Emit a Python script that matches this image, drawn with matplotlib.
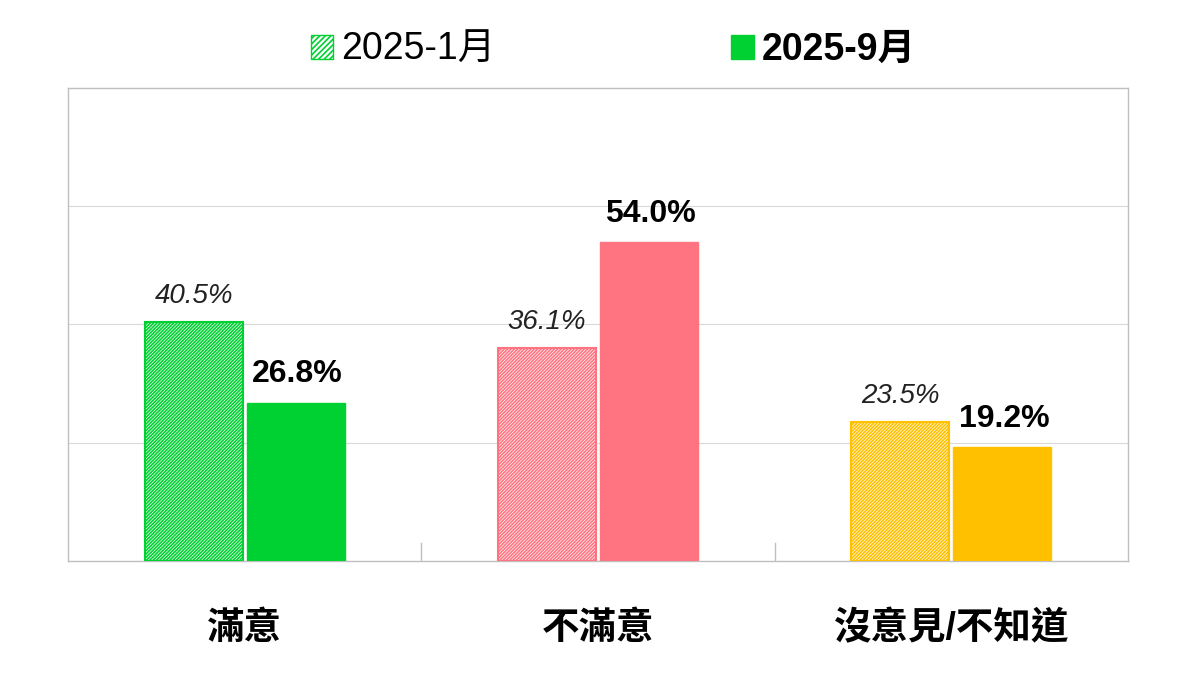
import matplotlib.pyplot as plt
import matplotlib.patches as mpatches
import numpy as np

plt.rcParams['font.family'] = ['Liberation Sans', 'Noto Sans CJK TC']
plt.rcParams['hatch.linewidth'] = 1.2

categories = ['滿意', '不滿意', '沒意見/不知道']
jan_values = [40.5, 36.1, 23.5]
sep_values = [26.8, 54.0, 19.2]
colors = ['#00D132', '#FF7480', '#FFC000']
series_labels = ['2025-1月', '2025-9月']

fig = plt.figure(figsize=(12, 6.75), dpi=100)
ax = fig.add_axes([0.0567, 0.169, 0.8833, 0.7006])

x = np.arange(len(categories))
w = 0.277
gap = 0.006

for i in range(len(categories)):
    ax.bar(x[i] - w / 2 - gap, jan_values[i], width=w, facecolor='white',
           edgecolor=colors[i], hatch='//////////', linewidth=1.5, zorder=3)
    ax.bar(x[i] + w / 2 + gap, sep_values[i], width=w, color=colors[i],
           edgecolor=colors[i], linewidth=1, zorder=3)
    ax.text(x[i] - w / 2 - gap, jan_values[i] + 2.2, f'{jan_values[i]:.1f}%',
            ha='center', va='bottom', fontsize=20, style='italic', color='#222222')
    ax.text(x[i] + w / 2 + gap + 0.005, sep_values[i] + 2.2, f'{sep_values[i]:.1f}%',
            ha='center', va='bottom', fontsize=23, fontweight='bold', color='black')

ax.set_xlim(-0.5, 2.5)
ax.set_ylim(0, 80)
ax.set_yticks([20, 40, 60])
ax.yaxis.grid(True, color='#d9d9d9', linewidth=0.8, zorder=0)
ax.tick_params(axis='y', left=False, labelleft=False)
ax.set_xticks(x)
ax.set_xticklabels(categories, fontsize=27, fontweight='bold')
ax.tick_params(axis='x', length=0, pad=36)
for b in [0.5, 1.5]:
    ax.plot([b, b], [0, 3], color='#bfbfbf', linewidth=1, zorder=2)
for s in ax.spines.values():
    s.set_color('#bfbfbf')
    s.set_linewidth(1)

h1 = mpatches.Patch(facecolor='white', edgecolor=colors[0], hatch='//////', linewidth=1)
h2 = mpatches.Patch(facecolor=colors[0], edgecolor=colors[0])
leg = fig.legend([h1, h2], series_labels, loc='center', bbox_to_anchor=(0.511, 0.926),
                 ncol=2, frameon=False, fontsize=27, handlelength=0.6, handleheight=0.6,
                 handletextpad=0.2, columnspacing=6.3)
leg.get_texts()[1].set_fontweight('bold')

fig.savefig('out.png', dpi=100, facecolor='white')
